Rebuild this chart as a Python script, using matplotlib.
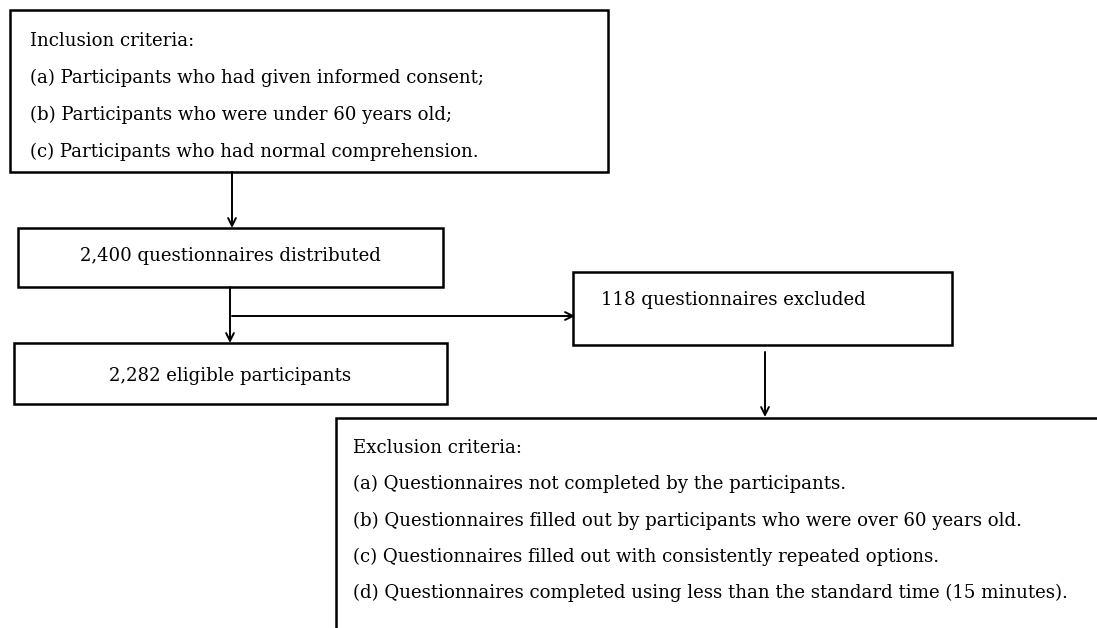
import matplotlib.pyplot as plt
from matplotlib.patches import Rectangle

# text content of the flowchart
inclusion_lines = [
    'Inclusion criteria:',
    '(a) Participants who had given informed consent;',
    '(b) Participants who were under 60 years old;',
    '(c) Participants who had normal comprehension.',
]
distributed_label = '2,400 questionnaires distributed'
eligible_label = '2,282 eligible participants'
excluded_label = '118 questionnaires excluded'
exclusion_lines = [
    'Exclusion criteria:',
    '(a) Questionnaires not completed by the participants.',
    '(b) Questionnaires filled out by participants who were over 60 years old.',
    '(c) Questionnaires filled out with consistently repeated options.',
    '(d) Questionnaires completed using less than the standard time (15 minutes).',
]

W, H = 1097, 628
plt.rcParams['font.family'] = ['DejaVu Serif']
fig = plt.figure(figsize=(W / 100, H / 100), dpi=100)
ax = fig.add_axes([0, 0, 1, 1])
ax.set_xlim(0, W)
ax.set_ylim(H, 0)
ax.axis('off')

FS = 13.1
LW = 1.8


def box(x0, y0, x1, y1):
    ax.add_patch(Rectangle((x0, y0), x1 - x0, y1 - y0, fill=False,
                           edgecolor='black', linewidth=LW))


def arrow(x0, y0, x1, y1):
    ax.annotate('', xy=(x1, y1), xytext=(x0, y0),
                arrowprops=dict(arrowstyle='->', color='black', lw=1.4,
                                shrinkA=0, shrinkB=0, mutation_scale=14))


# inclusion box
box(10, 10, 608, 172)
for i, line in enumerate(inclusion_lines):
    ax.text(30, 41 + i * 37, line, fontsize=FS, va='center', ha='left')

arrow(232, 172, 232, 228)

box(18, 228, 443, 287)
ax.text(230, 256, distributed_label, fontsize=FS, va='center', ha='center')

arrow(230, 287, 230, 343)
arrow(232, 316, 575, 316)

box(14, 343, 447, 404)
ax.text(230, 376, eligible_label, fontsize=FS, va='center', ha='center')

box(573, 272, 952, 345)
ax.text(733, 300, excluded_label, fontsize=FS, va='center', ha='center')

arrow(765, 352, 765, 417)

# exclusion box: open on right and bottom
ax.plot([336, 336, W + 5], [H + 5, 418, 418], color='black', linewidth=LW,
        solid_joinstyle='miter')
for i, line in enumerate(exclusion_lines):
    ax.text(353, 448 + i * 36.3, line, fontsize=FS, va='center', ha='left')

fig.savefig('out.png', dpi=100)
